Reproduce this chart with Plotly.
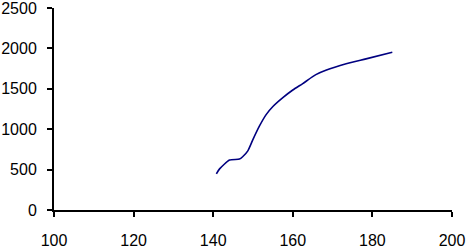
import plotly.graph_objects as go

x_vals = [140.8, 141.6, 144.1, 146.6, 147.4, 148.7, 150.0, 151.6, 153.3, 155.0, 157.5,
          160.0, 162.5, 165.8, 168.3, 173.4, 178.4, 185.0]
y_vals = [448, 509, 618, 630, 659, 732, 874, 1037, 1180, 1281, 1391,
          1485, 1565, 1675, 1729, 1809, 1870, 1952]
x_ticks = [100, 120, 140, 160, 180, 200]
y_ticks = [0, 500, 1000, 1500, 2000, 2500]

fig = go.Figure(go.Scatter(x=x_vals, y=y_vals, mode="lines",
                           line=dict(color="#000080", width=1.6, shape="spline", smoothing=0.6)))
font = dict(family="Liberation Sans, Arial, sans-serif", size=16, color="black")
fig.update_layout(
    width=468, height=251, margin=dict(l=54, r=16, t=8, b=41),
    paper_bgcolor="white", plot_bgcolor="white", showlegend=False, font=font,
    xaxis=dict(range=[100, 200], tickvals=x_ticks, showgrid=False, zeroline=False,
               showline=True, linecolor="black", linewidth=2, ticks="outside",
               ticklen=5, tickwidth=2, tickcolor="black", ticklabelstandoff=10,
               ticklabeloverflow="allow", automargin=False),
    yaxis=dict(range=[0, 2500], tickvals=y_ticks, showgrid=False, zeroline=False,
               showline=True, linecolor="black", linewidth=2, ticks="outside",
               ticklen=5, tickwidth=2, tickcolor="black", ticklabelstandoff=7,
               ticklabeloverflow="allow", automargin=False),
)
fig.write_html("out.html")
